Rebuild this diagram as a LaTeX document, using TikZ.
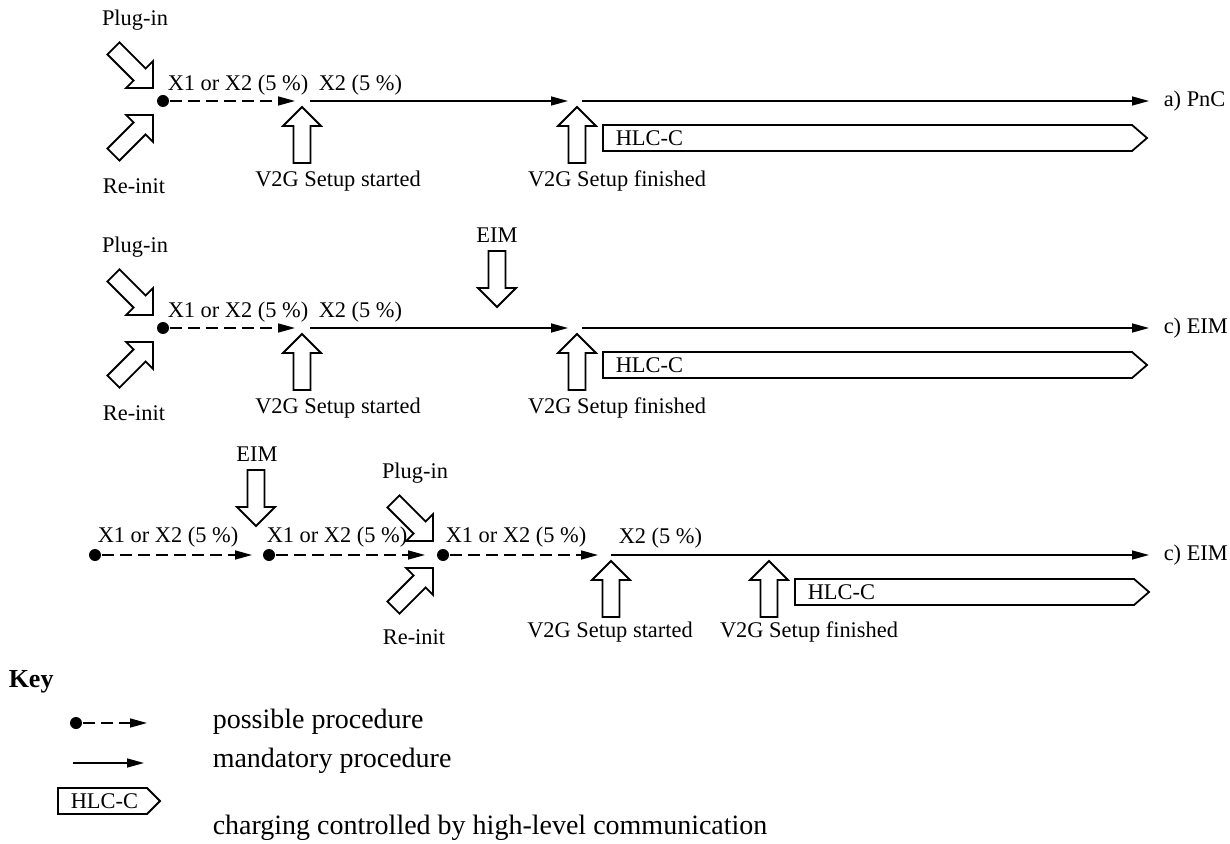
\documentclass[tikz,border=0pt]{standalone}
\usepackage{fontspec}
\setmainfont{Liberation Serif}
\usetikzlibrary{arrows.meta}

\begin{document}
\begin{tikzpicture}[
    x=0.5pt, y=-0.5pt,
    line width=0.75pt,
    font=\fontsize{11.2}{13}\selectfont,
    lab/.style={inner sep=0pt},
    keylab/.style={inner sep=0pt, anchor=west, font=\fontsize{14}{16}\selectfont},
    dot/.style={circle, fill, inner sep=0pt, minimum size=6pt},
    possible/.style={dash pattern=on 6pt off 3pt, -{Triangle[length=8.5pt,width=4.5pt]}},
    mandatory/.style={-{Triangle[length=8.5pt,width=4.5pt]}},
    hlc/.style={draw, line width=0.9pt, line join=miter},
    bigarrow/.pic={\draw[line width=0.9pt, line join=miter]
        (0,0) -- (-19,-19) -- (-19,-8.5) -- (-56,-8.5) -- (-56,8.5) -- (-19,8.5) -- (-19,19) -- cycle;}
]
\useasboundingbox (0,0) rectangle (1230,844);
% ---------------- a) PnC ----------------
\node[lab] (plugA) at (135,20) {Plug-in};
\pic[rotate=-45] at (153,88) {bigarrow};
\pic[rotate=45] at (153,115) {bigarrow};
\node[lab] (reinitA) at (134,186) {Re-init};
\node[dot] (startA) at (163,101) {};
\coordinate (possA) at (295,101);
\coordinate (setupA) at (310,101);
\coordinate (waitA) at (568,101);
\coordinate (doneA) at (582,101);
\coordinate (endA) at (1149,101);
\node[lab, anchor=west] (pncA) at (1163,101) {a) PnC};
\node[lab, anchor=west] (x1A) at (167,85) {X1 or X2 (5~\%)};
\node[lab, anchor=west] (x2A) at (318,85) {X2 (5~\%)};
\draw[possible] (startA) -- (possA);
\draw[mandatory] (setupA) -- (waitA);
\draw[mandatory] (doneA) -- (endA);
\pic[rotate=90] at (302,107) {bigarrow};
\node[lab] (startedA) at (338,181) {V2G Setup started};
\pic[rotate=90] at (577,107) {bigarrow};
\node[lab] (finishedA) at (617,181) {V2G Setup finished};
\draw[hlc] (603,125) -- (1132,125) -- (1147,138) -- (1132,151) -- (603,151) -- cycle;
\node[lab, anchor=west] (hlcA) at (615,138) {HLC-C};
% ---------------- c) EIM, first ----------------
\begin{scope}[yshift=-113.5pt]
\node[lab] (plugB) at (135,20) {Plug-in};
\pic[rotate=-45] at (153,88) {bigarrow};
\pic[rotate=45] at (153,115) {bigarrow};
\node[lab] (reinitB) at (134,186) {Re-init};
\node[dot] (startB) at (163,101) {};
\coordinate (possB) at (295,101);
\coordinate (setupB) at (310,101);
\coordinate (waitB) at (568,101);
\coordinate (doneB) at (582,101);
\coordinate (endB) at (1149,101);
\node[lab, anchor=west] (eimB) at (1163,101) {c) EIM};
\node[lab, anchor=west] (x1B) at (167,85) {X1 or X2 (5~\%)};
\node[lab, anchor=west] (x2B) at (318,85) {X2 (5~\%)};
\draw[possible] (startB) -- (possB);
\draw[mandatory] (setupB) -- (waitB);
\draw[mandatory] (doneB) -- (endB);
\node[lab] (authB) at (497,8) {EIM};
\pic[rotate=-90] at (497,80) {bigarrow};
\pic[rotate=90] at (302,107) {bigarrow};
\node[lab] (startedB) at (338,181) {V2G Setup started};
\pic[rotate=90] at (577,107) {bigarrow};
\node[lab] (finishedB) at (617,181) {V2G Setup finished};
\draw[hlc] (603,125) -- (1132,125) -- (1147,138) -- (1132,151) -- (603,151) -- cycle;
\node[lab, anchor=west] (hlcB) at (615,138) {HLC-C};
\end{scope}
% ---------------- c) EIM, second ----------------
\node[dot] (startC1) at (95,555) {};
\node[dot] (startC2) at (269,555) {};
\node[dot] (startC3) at (443,555) {};
\coordinate (possC1) at (252,555);
\coordinate (possC2) at (425,555);
\coordinate (possC3) at (598,555);
\coordinate (setupC) at (611,555);
\coordinate (endC) at (1149,555);
\node[lab, anchor=west] (eimC) at (1163,555) {c) EIM};
\node[lab, anchor=west] (x1C1) at (97,537) {X1 or X2 (5~\%)};
\node[lab, anchor=west] (x1C2) at (266,537) {X1 or X2 (5~\%)};
\node[lab, anchor=west] (x1C3) at (445,537) {X1 or X2 (5~\%)};
\node[lab, anchor=west] (x2C) at (618,538) {X2 (5~\%)};
\draw[possible] (startC1) -- (possC1);
\draw[possible] (startC2) -- (possC2);
\draw[possible] (startC3) -- (possC3);
\draw[mandatory] (setupC) -- (endC);
\node[lab] (authC) at (257,454) {EIM};
\pic[rotate=-90] at (256,526) {bigarrow};
\node[lab] (plugC) at (415,473) {Plug-in};
\pic[rotate=-45] at (433,541) {bigarrow};
\pic[rotate=45] at (433,568) {bigarrow};
\node[lab] (reinitC) at (414,637) {Re-init};
\pic[rotate=90] at (611,561) {bigarrow};
\node[lab] (startedC) at (610,632) {V2G Setup started};
\pic[rotate=90] at (769,561) {bigarrow};
\node[lab] (finishedC) at (809,632) {V2G Setup finished};
\draw[hlc] (795,579) -- (1134,579) -- (1149,592) -- (1134,605) -- (795,605) -- cycle;
\node[lab, anchor=west] (hlcC) at (807,592) {HLC-C};
% ---------------- Key ----------------
\node[lab, anchor=west, font=\fontsize{13}{15}\selectfont\bfseries] (key) at (8,682) {Key};
\node[dot] (keydot) at (76,723) {};
\coordinate (keyposs) at (147,723);
\draw[possible] (keydot) -- (keyposs);
\node[keylab] (possible) at (212,722) {possible procedure};
\coordinate (keyfrom) at (73,763);
\coordinate (keyto) at (144,763);
\draw[mandatory] (keyfrom) -- (keyto);
\node[keylab] (mandatory) at (212,761) {mandatory procedure};
\draw[hlc] (58,788) -- (147,788) -- (160,801) -- (147,814) -- (58,814) -- cycle;
\node[lab, anchor=west] (keyhlc) at (70,801) {HLC-C};
\node[keylab] (charging) at (212,828) {charging controlled by high-level communication};
\end{tikzpicture}
\end{document}
